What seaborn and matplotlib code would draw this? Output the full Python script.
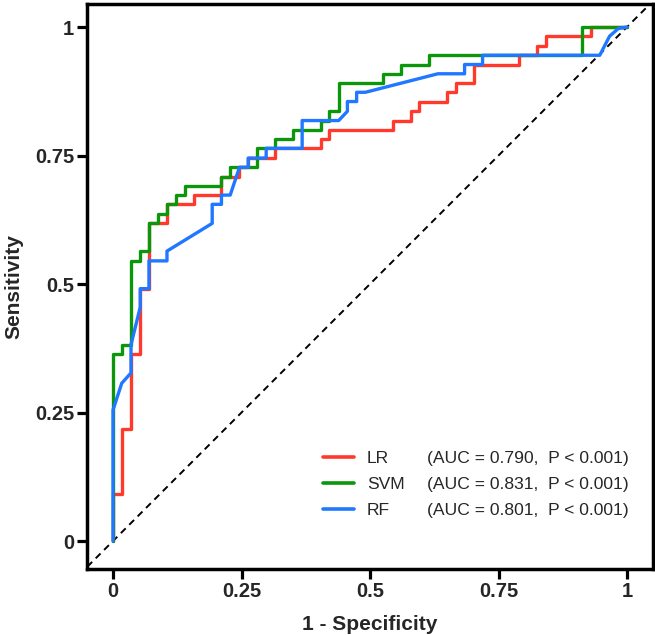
import matplotlib
matplotlib.use("Agg")
import matplotlib.pyplot as plt
import seaborn as sns
import pandas as pd

# ---- data (ROC vertices) ----
models = ["LR", "SVM", "RF"]
auc_labels = ["(AUC = 0.790,  P < 0.001)",
              "(AUC = 0.831,  P < 0.001)",
              "(AUC = 0.801,  P < 0.001)"]
colors = ["#FF3A2C", "#0C960C", "#1F78FF"]

lr_fpr = [0, 0, .018, .018, .035, .035, .053, .053, .070, .070, .105, .105, .158, .158,
          .211, .211, .246, .246, .263, .263, .316, .316, .404, .404, .421, .421, .544, .544,
          .579, .579, .596, .596, .649, .649, .667, .667, .702, .702, .789, .789, .825, .825,
          .842, .842, .930, .930, 1]
lr_tpr = [0, .091, .091, .218, .218, .364, .364, .491, .491, .618, .618, .655, .655, .673,
          .673, .709, .709, .727, .727, .745, .745, .764, .764, .782, .782, .800, .800, .818,
          .818, .836, .836, .855, .855, .873, .873, .891, .891, .927, .927, .945, .945, .964,
          .964, .982, .982, 1, 1]

svm_fpr = [0, 0, .018, .018, .035, .035, .053, .053, .070, .070, .088, .088, .105, .105,
           .123, .123, .140, .140, .211, .211, .228, .228, .281, .281, .316, .316, .351, .351,
           .404, .404, .421, .421, .439, .439, .526, .526, .561, .561, .614, .614, .912, .912, 1]
svm_tpr = [0, .364, .364, .382, .382, .545, .545, .564, .564, .618, .618, .636, .636, .655,
           .655, .673, .673, .691, .691, .709, .709, .727, .727, .764, .764, .782, .782, .800,
           .800, .818, .818, .836, .836, .891, .891, .909, .909, .927, .927, .945, .945, 1, 1]

rf_fpr = [0, 0, .017, .035, .035, .053, .053, .070, .070, .105, .105, .193, .193, .211,
          .211, .228, .246, .263, .263, .298, .298, .368, .368, .439, .456, .456, .474, .474,
          .491, .632, .684, .684, .719, .719, .947, .966, .983, 1]
rf_tpr = [0, .255, .307, .327, .382, .455, .491, .491, .545, .545, .564, .618, .655, .655,
          .673, .673, .727, .727, .745, .745, .764, .764, .818, .818, .836, .855, .855, .873,
          .873, .909, .909, .927, .927, .945, .945, .982, .997, 1]

x_ticks = [0, 0.25, 0.5, 0.75, 1]
x_ticklabels = ["0", "0.25", "0.5", "0.75", "1"]
y_ticks = [0, 0.25, 0.5, 0.75, 1]
y_ticklabels = ["0", "0.25", "0.5", "0.75", "1"]

frames = []
for name, fx, ty in zip(models, [lr_fpr, svm_fpr, rf_fpr], [lr_tpr, svm_tpr, rf_tpr]):
    frames.append(pd.DataFrame({"fpr": fx, "tpr": ty, "model": name}))
df = pd.concat(frames, ignore_index=True)

# ---- style ----
sns.set_style("ticks")
plt.rcParams["font.family"] = ["Liberation Sans", "DejaVu Sans"]

fig = plt.figure(figsize=(6.55, 6.35), dpi=100)
ax = fig.add_axes([0.1333, 0.1035, 0.8632, 0.8904])

ax.axline((0, 0), (1, 1), color="black", lw=1.4, ls=(0, (3.5, 2.6)), zorder=1)

sns.lineplot(data=df, x="fpr", y="tpr", hue="model", hue_order=models,
             palette=colors, sort=False, estimator=None, lw=2.4, legend=False,
             ax=ax, zorder=3)

ax.set_xlim(-0.05, 1.05)
ax.set_ylim(-0.055, 1.045)
ax.set_xticks(x_ticks)
ax.set_xticklabels(x_ticklabels)
ax.set_yticks(y_ticks)
ax.set_yticklabels(y_ticklabels)
for lab in ax.get_xticklabels() + ax.get_yticklabels():
    lab.set_fontweight("bold")
    lab.set_fontsize(14.5)
ax.tick_params(axis="both", length=7, width=2.3, direction="out", pad=2.5, color="black")

for s in ax.spines.values():
    s.set_linewidth(2.5)
    s.set_color("black")
    s.set_visible(True)

ax.set_xlabel("1 - Specificity", fontsize=15, fontweight="bold", labelpad=10)
ax.set_ylabel("Sensitivity", fontsize=15, fontweight="bold", labelpad=8)

lines = ax.get_lines()[1:4]
leg_kw = dict(loc="upper left", frameon=False, fontsize=12.6, labelspacing=0.6,
              borderpad=0, borderaxespad=0)
leg1 = ax.legend(lines, models, bbox_to_anchor=(0.417, 0.2092),
                 handlelength=1.77, handletextpad=0.74, **leg_kw)
for h in leg1.get_lines():
    h.set_linewidth(2.6)
ax.add_artist(leg1)
blank = [plt.Line2D([], [], color="none") for _ in models]
ax.legend(blank, auc_labels, bbox_to_anchor=(0.601, 0.2092),
          handlelength=0, handletextpad=0, **leg_kw)

fig.savefig("out.png", dpi=100)
